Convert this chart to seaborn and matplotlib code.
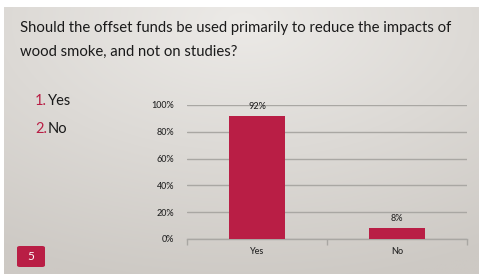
import numpy as np
import pandas as pd
import matplotlib
matplotlib.use("Agg")
import matplotlib.pyplot as plt
from matplotlib.patches import FancyBboxPatch
import seaborn as sns

categories = ["Yes", "No"]
values = [92, 8]
bar_labels = ["92%", "8%"]
ytick_values = [0, 20, 40, 60, 80, 100]
ytick_labels = ["0%", "20%", "40%", "60%", "80%", "100%"]
title_lines = ["Should the offset funds be used primarily to reduce the impacts of",
               "wood smoke, and not on studies?"]
options = [("1.", "Yes"), ("2.", "No")]
slide_number = "5"

CRIMSON = "#b91e45"
sns.set_theme(style="white")
plt.rcParams['font.family'] = ['Lato', 'DejaVu Sans']

W, H = 479, 274
fig = plt.figure(figsize=(W / 100, H / 100), dpi=100)
fig.patch.set_facecolor("white")

# background slide with radial gradient
bg = fig.add_axes([4 / W, 0, 1 - 4 / W, 1 - 7 / H])
bg.set_axis_off()
yy, xx = np.mgrid[0:200, 0:300]
cx, cy = 150, 10
d = np.sqrt(((xx - cx) / 300) ** 2 + ((yy - cy) / 200) ** 2)
d = np.clip(d / 1.0, 0, 1)
c0 = np.array([0xec, 0xea, 0xe7]) / 255
c1 = np.array([0xcd, 0xc9, 0xc4]) / 255
img = c0[None, None, :] * (1 - d[..., None]) + c1[None, None, :] * d[..., None]
bg.imshow(img, aspect="auto", extent=[0, 1, 0, 1], origin="upper")
bg.set_xlim(0, 1)
bg.set_ylim(0, 1)

def fx(x):
    return x / W

def fy(y):
    return 1 - y / H

fig.text(fx(20), fy(28), title_lines[0], fontsize=10.7, color="#1a1a1a", va="center", ha="left")
fig.text(fx(20), fy(52), title_lines[1], fontsize=10.7, color="#1a1a1a", va="center", ha="left")

for i, (num, lab) in enumerate(options):
    y = 101 + i * 28
    fig.text(fx(47), fy(y), num, fontsize=10.5, color=CRIMSON, va="center", ha="right")
    fig.text(fx(48), fy(y), lab, fontsize=10.5, color="#1a1a1a", va="center", ha="left")

# slide number badge
badge = FancyBboxPatch((fx(17), fy(267)), fx(28), (21 / H), boxstyle="round,pad=0,rounding_size=0.006",
                       transform=fig.transFigure, facecolor=CRIMSON, edgecolor="none")
fig.patches.append(badge)
fig.text(fx(31), fy(256.5), slide_number, fontsize=8.5, color="white", va="center", ha="center")

# chart
ax = fig.add_axes([fx(187), fy(239), fx(467) - fx(187), fy(105) - fy(239)])
ax.patch.set_alpha(0)
df = pd.DataFrame({"cat": categories, "val": values})
sns.barplot(data=df, x="cat", y="val", color=CRIMSON, saturation=1, width=0.4, ax=ax,
            zorder=3, linewidth=0, edgecolor="none")
ax.set_ylim(0, 100)
ax.set_xlim(-0.5, 1.5)
ax.set_yticks(ytick_values)
ax.set_yticklabels(ytick_labels)
ax.yaxis.grid(True, color="#a9a7a3", linewidth=1)
ax.set_axisbelow(True)
for s in ["top", "right", "left"]:
    ax.spines[s].set_visible(False)
ax.spines["bottom"].set_color("#a9a7a3")
ax.spines["bottom"].set_linewidth(1)
ax.set_xlabel("")
ax.set_ylabel("")
ax.set_xticks([-0.5, 0.5, 1.5], minor=False)
ax.set_xticklabels(["", "", ""])
ax.set_xticks([0, 1], minor=True)
ax.set_xticklabels(categories, minor=True)
ax.tick_params(axis="x", which="major", length=4, width=1, color="#a9a7a3", direction="out", bottom=True)
ax.tick_params(axis="x", which="minor", length=0, labelsize=6.5, labelcolor="#222222", pad=6)
ax.tick_params(axis="y", length=0, labelsize=6.5, labelcolor="#222222", pad=9)
for lbl in ax.get_yticklabels() + ax.get_xticklabels(minor=True):
    lbl.set_fontweight("medium")
for p, lab in zip(ax.patches, bar_labels):
    ax.annotate(lab, (p.get_x() + p.get_width() / 2, p.get_height()), xytext=(0, 3.5),
                textcoords="offset points", ha="center", va="bottom", fontsize=6.5,
                color="#222222", fontweight="medium")

fig.savefig("out.png", dpi=100)
